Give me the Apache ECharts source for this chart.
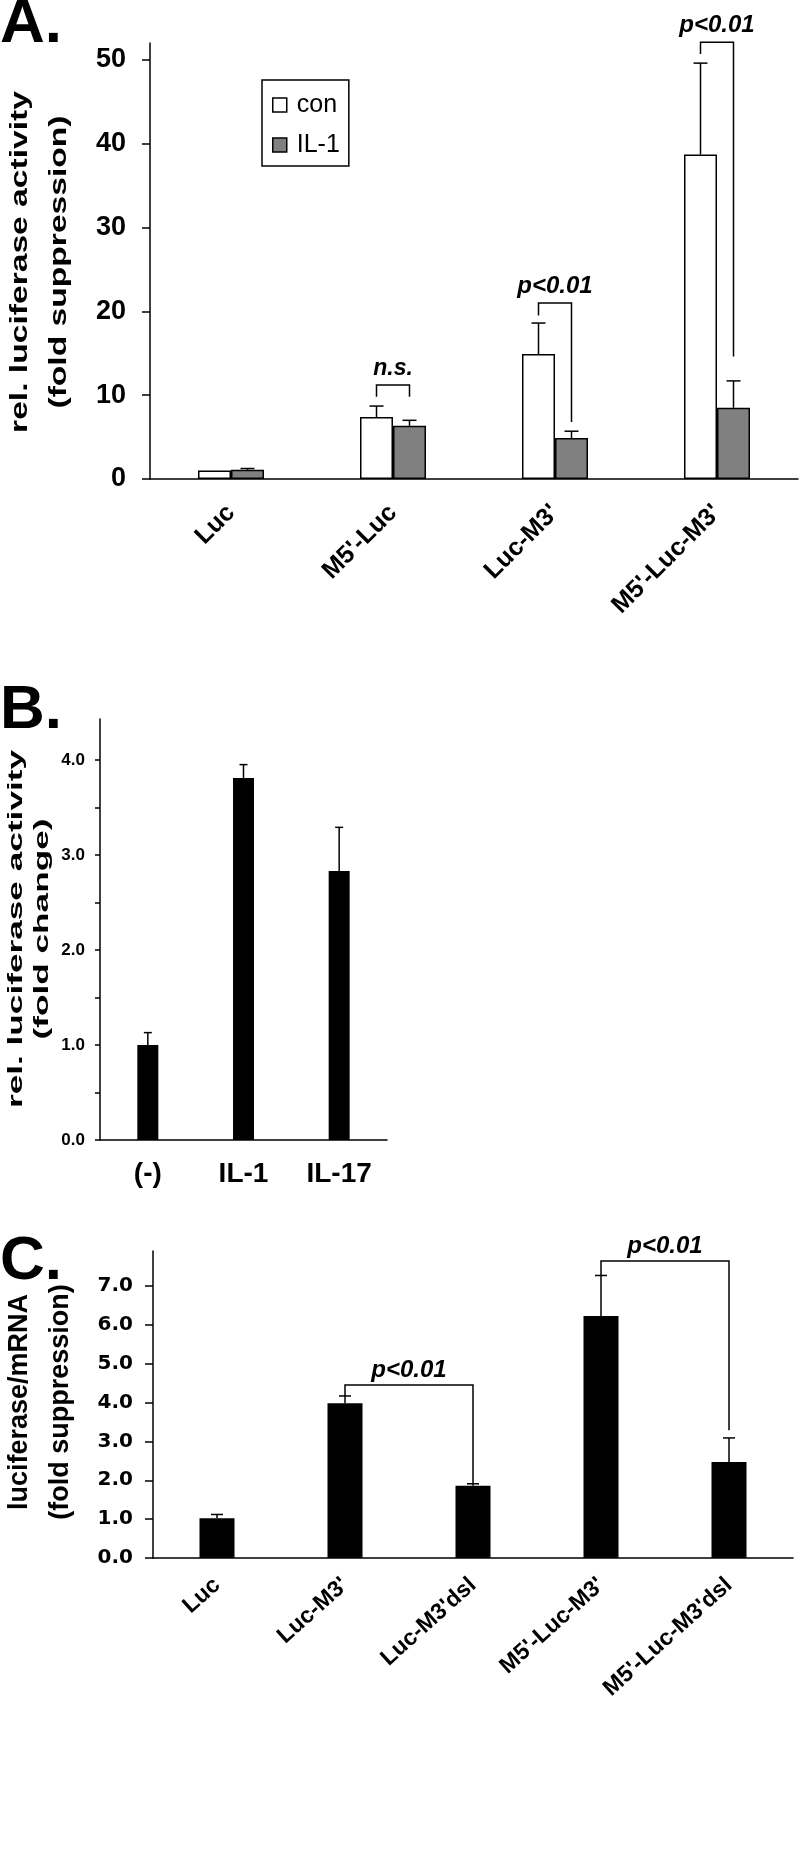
<!DOCTYPE html>
<html>
<head>
<meta charset="utf-8">
<script src="https://cdn.jsdelivr.net/npm/echarts@6/dist/echarts.min.js"></script>
<style>
html, body { margin: 0; padding: 0; background: #fff; }
#chart { width: 801px; height: 1868px; }
</style>
</head>
<body>
<div id="chart"></div>
<script>
// ---- panel A : rel. luciferase activity (fold suppression)
var aCategories = ['Luc', "M5'-Luc", "Luc-M3'", "M5'-Luc-M3'"];
var aCon = [1.0, 7.4, 14.9, 38.7];
var aConErr = [null, 8.7, 18.6, 49.6];     // top of error bar
var aIL1 = [1.1, 6.35, 4.9, 8.5];
var aIL1Err = [1.25, 7.0, 5.7, 11.7];
// [category, left leg end, bracket top, right leg end]
var aBrackets = [
  [1, 9.8, 11.2, 9.8],
  [2, 19.5, 21.0, 6.8],
  [3, 50.7, 52.1, 14.6]
];
var aBracketText = ['n.s.', 'p<0.01', 'p<0.01'];
var aTicks = [0, 10, 20, 30, 40, 50];

// ---- panel B : rel. luciferase activity (fold change)
var bCategories = ['(-)', 'IL-1', 'IL-17'];
var bValues = [1.0, 3.81, 2.83];
var bErr = [1.13, 3.95, 3.29];
var bLabelTicks = [0, 1, 2, 3, 4];
var bTicks = [0, 0.5, 1, 1.5, 2, 2.5, 3, 3.5, 4];

// ---- panel C : luciferase/mRNA (fold suppression)
var cCategories = ['Luc', "Luc-M3'", "Luc-M3'dsl", "M5'-Luc-M3'", "M5'-Luc-M3'dsl"];
var cValues = [1.02, 3.98, 1.86, 6.23, 2.47];
var cErr = [1.12, 4.17, 1.91, 7.27, 3.09];
// [left category, right category, left leg end, bracket top, right leg end]
var cBrackets = [
  [1, 2, 4.17, 4.45, 1.91],
  [3, 4, 7.27, 7.64, 3.29]
];
var cBracketText = ['p<0.01', 'p<0.01'];
var cTicks = [0, 1, 2, 3, 4, 5, 6, 7];

var FONT = '"Liberation Sans", Arial, sans-serif';
var A_BAR = 33;
var lineStyle = { stroke: '#000', lineWidth: 1.5, fill: null };

// error bar drawn from bar top to value, with a cap
function errorBar(offset, capHalf) {
  return function (params, api) {
    var c = api.value(0);
    var base = api.coord([c, api.value(1)]);
    var top = api.coord([c, api.value(2)]);
    var x = base[0] + offset;
    return {
      type: 'group',
      children: [
        { type: 'line', shape: { x1: x, y1: base[1], x2: x, y2: top[1] }, style: lineStyle },
        { type: 'line', shape: { x1: x - capHalf, y1: top[1], x2: x + capHalf, y2: top[1] }, style: lineStyle }
      ]
    };
  };
}

function bracketText(text, x, y, size) {
  return {
    type: 'text',
    style: {
      text: text, x: x, y: y,
      font: 'italic bold ' + size + 'px ' + FONT,
      fill: '#000',
      align: 'center', textAlign: 'center',
      verticalAlign: 'bottom', textVerticalAlign: 'bottom'
    }
  };
}

function errData(vals, errs) {
  var out = [];
  vals.forEach(function (v, i) {
    if (errs[i] != null) out.push([i, v, errs[i]]);
  });
  return out;
}

var chart = echarts.init(document.getElementById('chart'));

var option = {
  animation: false,
  backgroundColor: '#fff',
  textStyle: { fontFamily: FONT, color: '#000' },
  graphic: [
    { type: 'text', x: 0, y: 25, style: { text: 'A.', font: 'bold 62px ' + FONT, fill: '#000', align: 'left', verticalAlign: 'middle' } },
    { type: 'text', x: 0, y: 711, style: { text: 'B.', font: 'bold 62px ' + FONT, fill: '#000', align: 'left', verticalAlign: 'middle' } },
    { type: 'text', x: 0, y: 1262, style: { text: 'C.', font: 'bold 62px ' + FONT, fill: '#000', align: 'left', verticalAlign: 'middle' } },
    {
      type: 'text', x: 40, y: 262, rotation: Math.PI / 2, scaleX: 1.4,
      style: { text: 'rel. luciferase activity\n(fold suppression)', font: 'bold 24px ' + FONT, lineHeight: 39, fill: '#000', align: 'center', textAlign: 'center', verticalAlign: 'middle', textVerticalAlign: 'middle' }
    },
    {
      type: 'text', x: 29, y: 929, rotation: Math.PI / 2, scaleX: 1.76,
      style: { text: 'rel. luciferase activity\n(fold change)', font: 'bold 20px ' + FONT, lineHeight: 26, fill: '#000', align: 'center', textAlign: 'center', verticalAlign: 'middle', textVerticalAlign: 'middle' }
    },
    {
      type: 'text', x: 40, y: 1402, rotation: Math.PI / 2,
      style: { text: 'luciferase/mRNA\n(fold suppression)', font: 'bold 27px ' + FONT, lineHeight: 41, fill: '#000', align: 'center', textAlign: 'center', verticalAlign: 'middle', textVerticalAlign: 'middle' }
    }
  ],
  legend: {
    data: [
      { name: 'con', itemStyle: { color: '#fff', borderColor: '#000', borderWidth: 1.5 } },
      { name: 'IL-1', itemStyle: { color: '#808080', borderColor: '#000', borderWidth: 1.5 } }
    ],
    orient: 'vertical',
    left: 262,
    top: 80,
    padding: [11, 9, 7, 10],
    icon: 'rect',
    itemWidth: 14,
    itemHeight: 14,
    itemGap: 12,
    borderColor: '#000',
    borderWidth: 1.5,
    selectedMode: false,
    textStyle: { fontSize: 25, color: '#000', fontFamily: FONT, lineHeight: 28, padding: [0, 0, 0, 5] }
  },
  grid: [
    { left: 150, top: 43, width: 648, height: 436 },
    { left: 100, top: 719, width: 287, height: 421 },
    { left: 153, top: 1251, width: 640, height: 307 }
  ],
  xAxis: [
    {
      gridIndex: 0, type: 'category', data: aCategories,
      axisLine: { lineStyle: { color: '#000', width: 1.5 } },
      axisTick: { show: false },
      axisLabel: { rotate: 45, margin: 30, fontSize: 25, fontWeight: 'bold', color: '#000', interval: 0 }
    },
    {
      gridIndex: 1, type: 'category', data: bCategories,
      axisLine: { lineStyle: { color: '#000', width: 1.5 } },
      axisTick: { show: false },
      axisLabel: { margin: 20, fontSize: 28, fontWeight: 'bold', color: '#000', interval: 0 }
    },
    {
      gridIndex: 2, type: 'category', data: cCategories,
      axisLine: { lineStyle: { color: '#000', width: 1.5 } },
      axisTick: { show: false },
      axisLabel: { rotate: 42, margin: 24, fontSize: 23, fontWeight: 'bold', color: '#000', interval: 0 }
    }
  ],
  yAxis: [
    {
      gridIndex: 0, type: 'value', min: 0, max: 52,
      axisLine: { show: true, lineStyle: { color: '#000', width: 1.5 } },
      axisTick: { show: true, length: 8, lineStyle: { color: '#000', width: 1.5 }, customValues: aTicks },
      axisLabel: { margin: 24, fontSize: 27, fontWeight: 'bold', color: '#000', customValues: aTicks },
      splitLine: { show: false }
    },
    {
      gridIndex: 1, type: 'value', min: 0, max: 4.43,
      axisLine: { show: true, lineStyle: { color: '#000', width: 1.5 } },
      axisTick: { show: true, length: 5, lineStyle: { color: '#000', width: 1.5 }, customValues: bTicks },
      axisLabel: {
        margin: 15, fontSize: 17, fontWeight: 'bold', color: '#000',
        customValues: bLabelTicks,
        formatter: function (v) { return v.toFixed(1); }
      },
      splitLine: { show: false }
    },
    {
      gridIndex: 2, type: 'value', min: 0, max: 7.9,
      axisLine: { show: true, lineStyle: { color: '#000', width: 1.5 } },
      axisTick: { show: true, length: 8, lineStyle: { color: '#000', width: 1.5 }, customValues: cTicks },
      axisLabel: {
        margin: 20, fontSize: 20, fontWeight: 'bold', color: '#000',
        fontFamily: '"DejaVu Sans", ' + FONT,
        customValues: cTicks,
        formatter: function (v) { return v.toFixed(1); }
      },
      splitLine: { show: false }
    }
  ],
  series: [
    // panel A
    {
      name: 'con', type: 'bar', xAxisIndex: 0, yAxisIndex: 0, data: aCon,
      barWidth: A_BAR, barGap: '0%',
      itemStyle: { color: '#fff', borderColor: '#000', borderWidth: 1.5 }
    },
    {
      name: 'IL-1', type: 'bar', xAxisIndex: 0, yAxisIndex: 0, data: aIL1,
      barWidth: A_BAR, barGap: '0%',
      itemStyle: { color: '#808080', borderColor: '#000', borderWidth: 1.5 }
    },
    {
      type: 'custom', xAxisIndex: 0, yAxisIndex: 0, data: errData(aCon, aConErr),
      renderItem: errorBar(-A_BAR / 2, 7)
    },
    {
      type: 'custom', xAxisIndex: 0, yAxisIndex: 0, data: errData(aIL1, aIL1Err),
      renderItem: errorBar(A_BAR / 2, 7)
    },
    {
      type: 'custom', xAxisIndex: 0, yAxisIndex: 0, data: aBrackets,
      renderItem: function (params, api) {
        var c = api.value(0);
        var top = api.coord([c, api.value(2)]);
        var yl = api.coord([c, api.value(1)])[1];
        var yr = api.coord([c, api.value(3)])[1];
        var xl = top[0] - A_BAR / 2, xr = top[0] + A_BAR / 2;
        var txt = aBracketText[params.dataIndex];
        return {
          type: 'group',
          children: [
            { type: 'polyline', shape: { points: [[xl, yl], [xl, top[1]], [xr, top[1]], [xr, yr]] }, style: lineStyle },
            bracketText(txt, (xl + xr) / 2, top[1] - 5, txt === 'n.s.' ? 23 : 24)
          ]
        };
      }
    },
    // panel B
    {
      type: 'bar', xAxisIndex: 1, yAxisIndex: 1, data: bValues,
      barWidth: 21, itemStyle: { color: '#000' }
    },
    {
      type: 'custom', xAxisIndex: 1, yAxisIndex: 1, data: errData(bValues, bErr),
      renderItem: errorBar(0, 4)
    },
    // panel C
    {
      type: 'bar', xAxisIndex: 2, yAxisIndex: 2, data: cValues,
      barWidth: 35, itemStyle: { color: '#000' }
    },
    {
      type: 'custom', xAxisIndex: 2, yAxisIndex: 2, data: errData(cValues, cErr),
      renderItem: errorBar(0, 6)
    },
    {
      type: 'custom', xAxisIndex: 2, yAxisIndex: 2, data: cBrackets,
      renderItem: function (params, api) {
        var left = api.coord([api.value(0), api.value(2)]);
        var right = api.coord([api.value(1), api.value(4)]);
        var yTop = api.coord([api.value(0), api.value(3)])[1];
        return {
          type: 'group',
          children: [
            { type: 'polyline', shape: { points: [left, [left[0], yTop], [right[0], yTop], right] }, style: lineStyle },
            bracketText(cBracketText[params.dataIndex], (left[0] + right[0]) / 2, yTop - 3, 24)
          ]
        };
      }
    }
  ]
};

chart.setOption(option);
</script>
</body>
</html>
